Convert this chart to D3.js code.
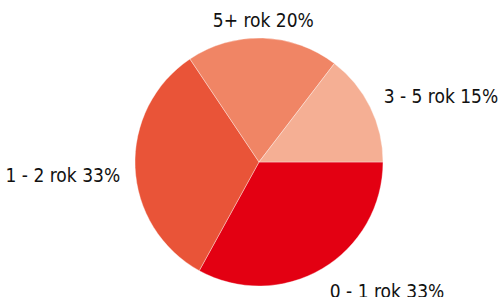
<!DOCTYPE html>
<html>
<head>
<meta charset="utf-8">
<script src="https://cdn.jsdelivr.net/npm/d3@7"></script>
<style>
	html, body { margin: 0; padding: 0; background: #fff; }
	svg { display: block; }
</style>
</head>
<body>
<svg id="chart"></svg>
<script>
// slices, clockwise from 3 o'clock
const categories = ["0 - 1 rok", "1 - 2 rok", "5+ rok", "3 - 5 rok"]
const shares = [33.0, 32.6, 19.8, 14.6]
const colors = ["#e30012", "#e95438", "#f08565", "#f5af94"]

const width = 500
const height = 297
const radius = 124
const font_family = "'DejaVu Sans Condensed', 'DejaVu Sans', Verdana, sans-serif"

const svg = d3.select("svg#chart")
	.attr("width", width)
	.attr("height", height)

const pie_group = svg.append("g")
	.attr("transform", `translate(259,162)`)

const total = d3.sum(shares)
const data = categories.map((name, i) => ({ name, value: shares[i], color: colors[i] }))

const pie = d3.pie()
	.sort(null)
	.value(d => d.value)
	.startAngle(Math.PI / 2)
	.endAngle(Math.PI / 2 + 2 * Math.PI)

const arcs = pie(data)

const arc = d3.arc()
	.innerRadius(0)
	.outerRadius(radius)

// slices
pie_group.selectAll("path.slice")
	.data(arcs)
	.enter()
	.append("path")
	.attr("class", "slice")
	.attr("d", arc)
	.style("fill", d => d.data.color)
	.style("stroke", "rgba(255,255,255,0.35)")
	.style("stroke-width", 1)

// outer labels
pie_group.selectAll("text.label")
	.data(arcs)
	.enter()
	.append("text")
	.attr("class", "label")
	.each(function (d) {
		const mid = (d.startAngle + d.endAngle) / 2
		const s = Math.sin(mid)
		const c = Math.cos(mid)
		const x = 139 * s
		const y = -142 * c + (c < 0 ? 7 : (c > 0.9 ? 0 : -2.5)) // nudge lower labels down a bit
		d3.select(this)
			.attr("x", x)
			.attr("y", y)
			.attr("dy", "0.35em")
			.attr("text-anchor", s > 0.2 ? "start" : (s < -0.2 ? "end" : "middle"))
	})
	.text(d => d.data.name + " " + Math.round(d.data.value / total * 100) + "%")
	.style("font-family", font_family)
	.style("font-size", "19px")
	.style("fill", "#111")
</script>
</body>
</html>
